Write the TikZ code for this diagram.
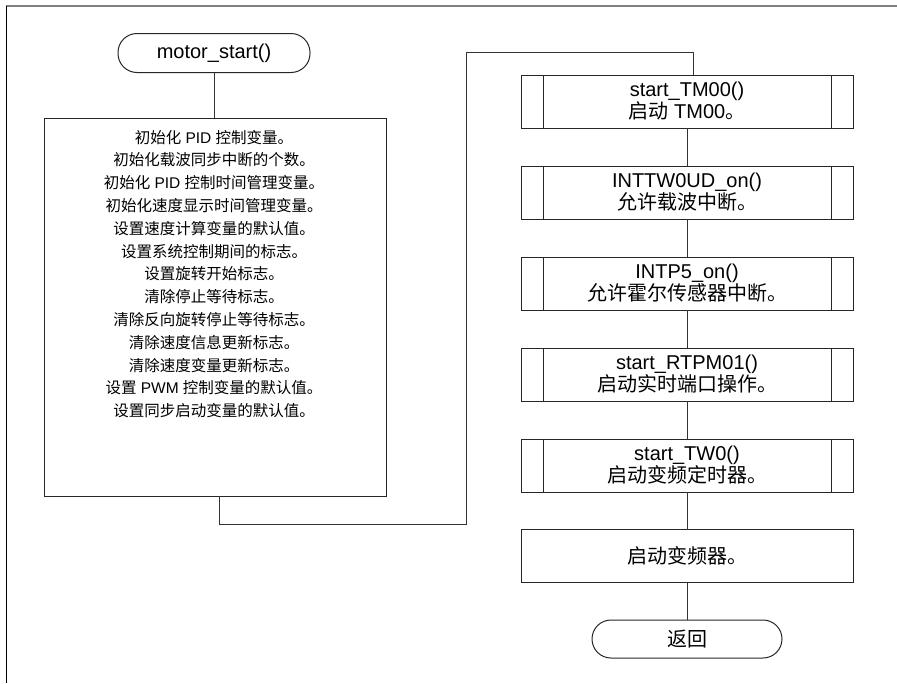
\documentclass[tikz,border=0pt]{standalone}
\usepackage{fontspec}
\setmainfont{Liberation Sans}
\newfontfamily\cjk{Noto Sans CJK SC}
\newcommand\zhs[1]{{\cjk #1}}
\begin{document}
\begin{tikzpicture}[x=1pt,y=-1pt,
  every node/.style={inner sep=0pt, outer sep=0pt},
  line/.style={draw=black!85, line width=1pt},
  conn/.style={draw=black!80, line width=1pt},
  term/.style={line, rectangle, rounded corners=19pt, minimum width=192pt, minimum height=39pt, font=\fontsize{20}{22}\selectfont},
  proc/.style={line, rectangle, minimum width=332pt, minimum height=53pt, align=center, font=\fontsize{20}{22}\selectfont},
  sub/.style={proc, path picture={
      \draw[draw=black!85, line width=1pt] ([xshift=22pt]path picture bounding box.north west) -- ([xshift=22pt]path picture bounding box.south west);
      \draw[draw=black!85, line width=1pt] ([xshift=-22pt]path picture bounding box.north east) -- ([xshift=-22pt]path picture bounding box.south east);}},
]
\useasboundingbox (0,0) rectangle (897,683);
% frame
\draw[gray, line width=1.3pt] (6,6) -- (897,6);
\draw[black, line width=1pt] (6,6) -- (6,683);

\node[term] (start) at (214,53) {motor\_start()};
\node[line, rectangle, minimum width=342pt, minimum height=378pt] (init) at (215,307) {};
\node[anchor=north, align=center, font=\fontsize{15.5}{22.8}\selectfont] (initTxt) at (214,130) {%
\zhs{初始化} PID \zhs{控制变量。}\\
\zhs{初始化载波同步中断的个数。}\\
\zhs{初始化} PID \zhs{控制时间管理变量。}\\
\zhs{初始化速度显示时间管理变量。}\\
\zhs{设置速度计算变量的默认值。}\\
\zhs{设置系统控制期间的标志。}\\
\zhs{设置旋转开始标志。}\\
\zhs{清除停止等待标志。}\\
\zhs{清除反向旋转停止等待标志。}\\
\zhs{清除速度信息更新标志。}\\
\zhs{清除速度变量更新标志。}\\
\zhs{设置} PWM \zhs{控制变量的默认值。}\\
\zhs{设置同步启动变量的默认值。}};

\node[sub] (b1) at (687,101.5) {start\_TM00()\\\zhs{启动} TM00\zhs{。}};
\node[sub] (b2) at (687,192.5) {INTTW0UD\_on()\\\zhs{允许载波中断。}};
\node[sub] (b3) at (687,283.5) {INTP5\_on()\\\zhs{允许霍尔传感器中断。}};
\node[sub] (b4) at (687,374.5) {start\_RTPM01()\\\zhs{启动实时端口操作。}};
\node[sub] (b5) at (687,465.5) {start\_TW0()\\\zhs{启动变频定时器。}};
\node[proc] (b6) at (687,556) {\zhs{启动变频器。}};
\node[term, minimum width=190pt, minimum height=38pt] (ret) at (687,639) {\zhs{返回}};

\coordinate (c1) at (466,524);
\coordinate (c2) at (466,52);

\draw[conn] (start) -- (start |- init.north);
\draw[conn] ([xshift=4pt]init.south) |- (c1) -- (c2) -| ([xshift=6pt]b1.north);
\draw[conn] (b1) -- (b2);
\draw[conn] (b2) -- (b3);
\draw[conn] (b3) -- (b4);
\draw[conn] (b4) -- (b5);
\draw[conn] (b5) -- (b6);
\draw[conn] (b6) -- (ret);
\end{tikzpicture}
\end{document}
